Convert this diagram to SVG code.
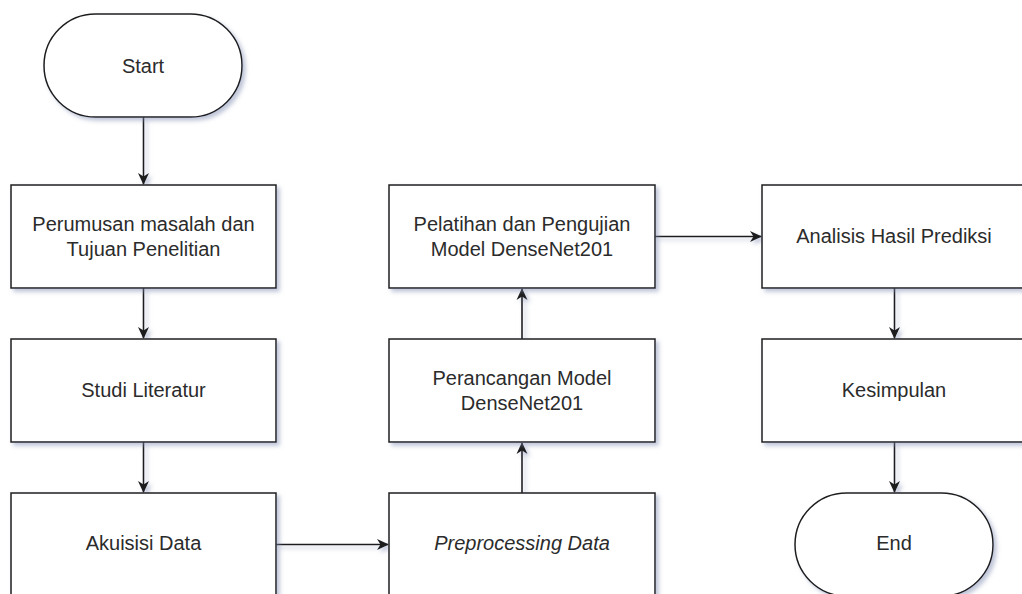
<svg xmlns="http://www.w3.org/2000/svg" width="1022" height="594" viewBox="0 0 1022 594">
<style>
.n{fill:#ffffff;stroke:#1e1e1e;stroke-width:1.5}
.t{font-family:"Liberation Sans",Arial,sans-serif;font-size:20px;fill:#2b2b2b;text-anchor:middle}
.i{font-style:italic}
.c{fill:none;stroke:#1e1e1e;stroke-width:1.6}
</style>
<defs>
<filter id="sh" x="-10%" y="-10%" width="130%" height="140%">
<feDropShadow dx="3" dy="3" stdDeviation="2.2" flood-color="#7f8bb0" flood-opacity="0.5"/>
</filter>
<marker id="ar" viewBox="0 0 12 12" refX="11" refY="6" markerWidth="12" markerHeight="12" markerUnits="userSpaceOnUse" orient="auto">
<path d="M0,0.5 L12,6 L0,11.5 L3.5,6 Z" fill="#1e1e1e"/>
</marker>
</defs>
<rect width="1022" height="594" fill="#ffffff"/>
<g id="connectors" filter="url(#sh)">
<path class="c" d="M143.5,117 V184" marker-end="url(#ar)"/>
<path class="c" d="M143.5,288 V338" marker-end="url(#ar)"/>
<path class="c" d="M143.5,442 V492" marker-end="url(#ar)"/>
<path class="c" d="M276,544.5 H388" marker-end="url(#ar)"/>
<path class="c" d="M522,493 V443" marker-end="url(#ar)"/>
<path class="c" d="M522,339 V289" marker-end="url(#ar)"/>
<path class="c" d="M655,236.5 H761" marker-end="url(#ar)"/>
<path class="c" d="M894.5,288 V338" marker-end="url(#ar)"/>
<path class="c" d="M894.5,442 V492" marker-end="url(#ar)"/>
</g>
<g id="start">
<rect class="n" filter="url(#sh)" x="44" y="14" width="198" height="103" rx="51.5" ry="51.5"/>
<text class="t" x="143" y="72.5">Start</text>
</g>
<g id="perumusan">
<rect class="n" filter="url(#sh)" x="11" y="185" width="265" height="103"/>
<text class="t" x="143.5" y="231">Perumusan masalah dan</text>
<text class="t" x="143.5" y="256">Tujuan Penelitian</text>
</g>
<g id="studi">
<rect class="n" filter="url(#sh)" x="11" y="339" width="265" height="103"/>
<text class="t" x="143.5" y="397">Studi Literatur</text>
</g>
<g id="akuisisi">
<rect class="n" filter="url(#sh)" x="11" y="493" width="265" height="103"/>
<text class="t" x="143.5" y="550">Akuisisi Data</text>
</g>
<g id="preprocessing">
<rect class="n" filter="url(#sh)" x="389" y="493" width="266" height="103"/>
<text class="t i" x="522" y="550">Preprocessing Data</text>
</g>
<g id="perancangan">
<rect class="n" filter="url(#sh)" x="389" y="339" width="266" height="103"/>
<text class="t" x="522" y="385">Perancangan Model</text>
<text class="t" x="522" y="410">DenseNet201</text>
</g>
<g id="pelatihan">
<rect class="n" filter="url(#sh)" x="389" y="185" width="266" height="103"/>
<text class="t" x="522" y="231">Pelatihan dan Pengujian</text>
<text class="t" x="522" y="256">Model DenseNet201</text>
</g>
<g id="analisis">
<rect class="n" filter="url(#sh)" x="762" y="185" width="265" height="103"/>
<text class="t" x="894" y="242.5">Analisis Hasil Prediksi</text>
</g>
<g id="kesimpulan">
<rect class="n" filter="url(#sh)" x="762" y="339" width="265" height="103"/>
<text class="t" x="894" y="397">Kesimpulan</text>
</g>
<g id="end">
<rect class="n" filter="url(#sh)" x="795" y="493" width="198" height="103" rx="51.5" ry="51.5"/>
<text class="t" x="894" y="550">End</text>
</g>
</svg>
